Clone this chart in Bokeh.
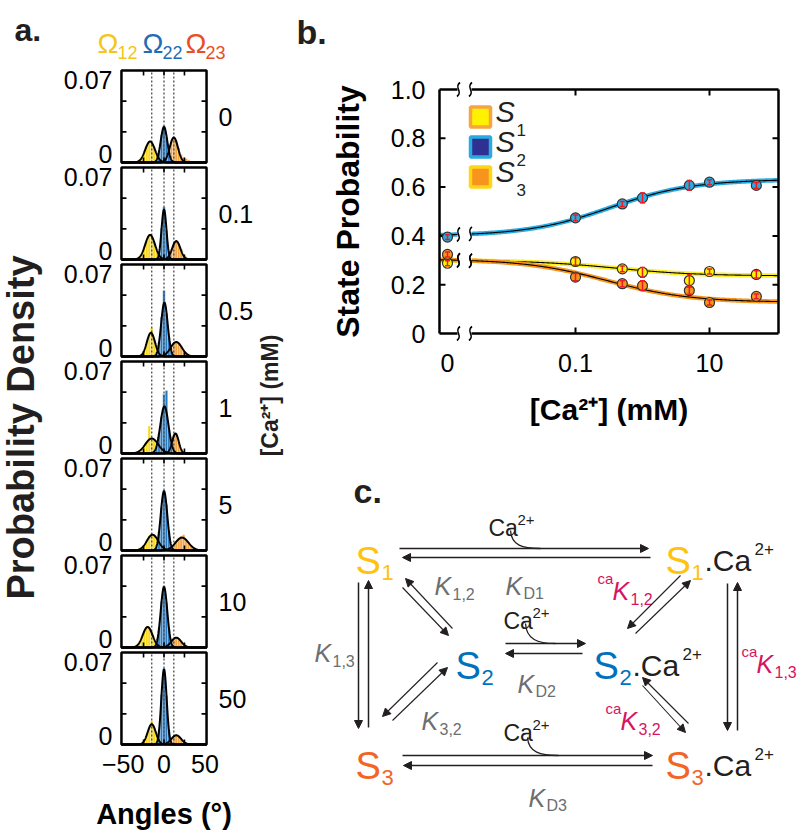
import numpy as np
from bokeh.plotting import figure
from bokeh.models import (ColumnDataSource, FixedTicker, LinearAxis, Range1d,
                          Whisker, TeeHead, Arrow, NormalHead, Plot)
from bokeh.layouts import row, column
from bokeh.core.properties import value
from bokeh.embed import file_html
from bokeh.resources import INLINE

FONT = "Liberation Sans"
HAS_FA = "frame_align" in Plot.properties()

# ---------------- panel a data ----------------
conc_labels = ["0", "0.1", "0.5", "1", "5", "10", "50"]
omega_subs = ["12", "22", "23"]
omega_angles = [-15, 0, 12]
fit_mu = [[-17, 0, 12], [-17, 0, 15], [-16, 0.5, 15], [-15, 0.5, 14],
          [-14, 0, 22], [-20, 0, 15], [-15, 0, 15]]
fit_sd = [[6, 4, 5], [6, 3, 5], [5, 4, 7], [8, 5, 4], [7, 4, 8], [6, 4, 6], [5, 3.3, 6]]
fit_amp = [[0.016, 0.027, 0.019], [0.0187, 0.038, 0.014], [0.018, 0.041, 0.011],
           [0.0114, 0.0358, 0.0152], [0.012, 0.045, 0.0098], [0.0156, 0.046, 0.0075],
           [0.0154, 0.057, 0.007]]
bins_s1 = [-42, -39, -36, -33, -30, -27, -24, -21, -18, -15, -12, -9, -6, -3]
bins_s2 = [-12, -9, -6, -3, 0, 3, 6, 9, 12]
bins_s3 = [3, 6, 9, 12, 15, 18, 21, 24, 27, 30, 33, 36, 39, 42]
# bar heights in units of 1e-3
hist_s1 = [[0, 1, 1, 1, 2, 4, 8, 13, 15, 14, 12, 7, 3, 1],
           [0, 0, 1, 1, 2, 5, 9, 14, 19, 17, 13, 8, 3, 1],
           [1, 0, 1, 0, 1, 2, 5, 11, 17, 22, 13, 7, 2, 1],
           [0, 0, 1, 1, 2, 4, 6, 9, 21, 12, 11, 8, 5, 3],
           [0, 1, 0, 1, 2, 2, 4, 7, 11, 13, 12, 9, 6, 3],
           [0, 0, 1, 2, 4, 8, 13, 16, 15, 12, 7, 3, 1, 0],
           [0, 0, 0, 1, 1, 1, 3, 8, 13, 18, 13, 7, 3, 1]]
hist_s2 = [[0, 2, 9, 21, 28, 19, 9, 2, 0],
           [0, 1, 5, 24, 40, 22, 6, 1, 0],
           [0, 3, 11, 30, 50, 33, 15, 4, 1],
           [2, 6, 15, 28, 45, 48, 18, 8, 2],
           [0, 4, 14, 33, 46, 35, 15, 4, 1],
           [0, 4, 15, 35, 47, 34, 14, 3, 1],
           [0, 1, 11, 38, 58, 37, 11, 1, 0]]
hist_s3 = [[4, 10, 16, 19, 17, 11, 6, 4, 3, 2, 1, 1, 0, 0],
           [1, 3, 7, 12, 14, 12, 8, 4, 2, 1, 1, 0, 0, 0],
           [3, 5, 8, 10, 11, 10, 8, 5, 3, 1, 0, 0, 0, 0],
           [0, 2, 7, 14, 15, 9, 3, 1, 1, 0, 0, 0, 0, 0],
           [1, 1, 3, 4, 7, 9, 11, 12, 8, 6, 4, 2, 1, 0],
           [1, 3, 5, 7, 8, 7, 5, 3, 1, 0, 0, 0, 0, 0],
           [1, 2, 4, 6, 7, 6, 4, 2, 1, 0, 0, 0, 0, 0]]
x_ticks_a = [-50, 0, 50]
x_inner_ticks_a = [-25, 0, 25]

# ---------------- panel b data ----------------
ca_mM = [0, 0.1, 0.5, 1, 5, 10, 50]
p_s1 = [0.288, 0.295, 0.265, 0.251, 0.217, 0.254, 0.242]
e_s1 = [0.010, 0.015, 0.012, 0.020, 0.025, 0.010, 0.015]
p_s2 = [0.395, 0.474, 0.531, 0.556, 0.607, 0.620, 0.607]
e_s2 = [0.010, 0.012, 0.010, 0.020, 0.020, 0.010, 0.012]
p_s3 = [0.324, 0.231, 0.204, 0.196, 0.176, 0.127, 0.152]
e_s3 = [0.010, 0.015, 0.012, 0.020, 0.015, 0.010, 0.010]
# Hill-type fit parameters: (P at 0, P at saturation, K (mM), n)
fit_s1 = (0.300, 0.236, 0.40, 0.7)
fit_s2 = (0.400, 0.632, 0.33, 0.7)
fit_s3 = (0.305, 0.128, 0.30, 0.7)
y_ticks_b = [0, 0.2, 0.4, 0.6, 0.8, 1.0]
y_labels_b = ["0", "0.2", "0.4", "0.6", "0.8", "1.0"]
x_labels_b = ["0", "0.1", "10"]

C_Y, C_B, C_O = "#F9D71C", "#2878BE", "#F3A541"
K = "#231F20"

# overall geometry in page pixels
W_ALL, H_ALL = 800, 840
HDH = 62
RH = H_ALL - HDH


def noalign(f):
    if HAS_FA:
        f.frame_align = False
    return f


def put(p, x, y, s, size, color=K, style="normal", align="left",
        baseline="alphabetic", angle=0.0):
    p.text(x=[x], y=[y], text=[s], text_font=value(FONT),
           text_font_size=f"{size}px", text_font_style=style, text_color=color,
           text_align=align, text_baseline=baseline, angle=angle)


def blank(w, h, x0, x1, y0, y1, bl=0, br=0, bt=0, bb=0):
    f = figure(width=w, height=h, x_range=Range1d(x0, x1), y_range=Range1d(-y1, -y0),
               x_axis_location=None, y_axis_location=None, toolbar_location=None,
               output_backend="svg", min_border_left=bl, min_border_right=br,
               min_border_top=bt, min_border_bottom=bb)
    f.grid.visible = False
    f.outline_line_color = None
    return noalign(f)


# ---------------- header ----------------
hd = blank(W_ALL, HDH, 0, W_ALL, 0, HDH)
put(hd, 14, -29, "a.", 32, style="bold")
put(hd, 296, -31, "b.", 34, style="bold")
om_cols = ["#F5C518", "#1E6DB6", "#E94E24"]
om_x = [97, 142, 185]
for s, c, x in zip(omega_subs, om_cols, om_x):
    put(hd, x, -43, "\u03A9", 28, color=c)
    put(hd, x + 20, -52, s, 18, color=c)

# ---------------- panel a ----------------
SXA = 87 / 104.0
SYA = 92 / 0.07
GAP = 5 / SYA
PITCH = 0.07 + GAP
NR = len(conc_labels)
bases = [(NR - 1 - k) * PITCH for k in range(NR)]
TB = 68 - HDH
BB = RH - TB - 678
PA_X0, PA_X1 = 50, 256

pa = figure(width=PA_X1 - PA_X0, height=RH, toolbar_location=None, output_backend="svg",
            x_range=Range1d(-52 - 2 / SXA, 52 + 2 / SXA),
            y_range=Range1d(-2 / SYA, bases[0] + 0.07 + 2 / SYA),
            min_border_left=119 - PA_X0, min_border_right=PA_X1 - 210,
            min_border_top=TB, min_border_bottom=BB)
noalign(pa)
pa.grid.visible = False
pa.outline_line_color = None

xg = np.linspace(-52, 52, 521)
for k in range(NR):
    b = bases[k]
    for bins, hs, col in ((bins_s1, hist_s1[k], C_Y), (bins_s3, hist_s3[k], C_O),
                          (bins_s2, hist_s2[k], C_B)):
        xs = [x for x, h in zip(bins, hs) if h > 0]
        ts = [b + h / 1000.0 for h in hs if h > 0]
        pa.vbar(x=xs, width=3, bottom=b, top=ts, fill_color=col,
                line_color="white", line_width=0.5, line_alpha=0.6)
    pa.segment(x0=omega_angles, x1=omega_angles, y0=b, y1=b + 0.07,
               line_color="#4D4D4D", line_width=1.3, line_dash="2 2")
    for j in range(3):
        yv = b + fit_amp[k][j] * np.exp(-(xg - fit_mu[k][j]) ** 2 / (2 * fit_sd[k][j] ** 2))
        pa.line(xg, yv, line_color="black", line_width=2)
    yt = [b + 0.07 / 3, b + 0.14 / 3]
    pa.ray(x=[-52, -52], y=yt, length=5, angle=0, length_units="screen",
           line_color="black", line_width=1.6)
    pa.ray(x=[52, 52], y=yt, length=5, angle=np.pi, length_units="screen",
           line_color="black", line_width=1.6)
    pa.ray(x=x_inner_ticks_a, y=[b + 0.07] * 3, length=5, angle=-np.pi / 2,
           length_units="screen", line_color="black", line_width=1.6)
    pa.ray(x=x_inner_ticks_a, y=[b] * 3, length=5, angle=np.pi / 2,
           length_units="screen", line_color="black", line_width=1.6)

pa.quad(left=-52, right=52, bottom=bases, top=[b + 0.07 for b in bases],
        fill_color=None, line_color="black", line_width=2.5)

lab_ticks, lab_over = [], {}
for b in bases:
    t0 = float(b + 9 / SYA)
    t7 = float(b + 0.07 - 9 / SYA)
    lab_ticks += [t0, t7]
    lab_over[t0] = "0"
    lab_over[t7] = "0.07"
ya = pa.yaxis[0]
ya.ticker = FixedTicker(ticks=lab_ticks)
ya.major_label_overrides = lab_over

centers = [float(b + 0.035) for b in bases]
ra = LinearAxis(ticker=FixedTicker(ticks=centers),
                major_label_overrides={c: l for c, l in zip(centers, conc_labels)})
pa.add_layout(ra, "right")

xa = pa.xaxis[0]
xa.ticker = FixedTicker(ticks=x_ticks_a)
xa.axis_label = "Angles (\u00B0)"
xa.axis_label_text_font_size = "29px"
xa.axis_label_text_font_style = "bold"
xa.axis_label_text_font = FONT
xa.axis_label_text_color = "black"
xa.axis_label_standoff = 22
xa.major_label_standoff = 8

for ax in (ya, ra, xa):
    ax.axis_line_color = None
    ax.major_tick_in = 0
    ax.major_tick_out = 0
    ax.minor_tick_in = 0
    ax.minor_tick_out = 0
    ax.major_label_text_font = FONT
    ax.major_label_text_font_size = "25px"
    ax.major_label_text_color = "black"
ya.major_label_standoff = 7
ra.major_label_standoff = 10

al = blank(PA_X0, RH, 0, PA_X0, 68, 746, bt=TB, bb=BB)
put(al, 20, -427, "Probability Density", 38, style="bold", align="center",
    baseline="middle", angle=np.pi / 2)
ar = blank(290 - PA_X1, RH, PA_X1, 290, 68, 746, bt=TB, bb=BB)
put(ar, 269, -395, "[Ca\u00B2\u207A] (mM)", 23, style="bold", align="center",
    baseline="middle", angle=np.pi / 2)

# ---------------- panel b ----------------
def bx(px):
    return 10 ** ((px - 575) / 67.0 - 1)


def by(py):
    return (333 - py) / 244.0


X0 = float(round(bx(447), 6))
XL, XR, XB1, XB2 = bx(439), bx(778), bx(457), bx(471)
xplot = [X0 if c == 0 else c for c in ca_mM]
WB = W_ALL - 290
PBH = 440 - HDH

pb = figure(width=WB, height=PBH, x_axis_type="log", toolbar_location=None,
            output_backend="svg", x_range=Range1d(bx(436), bx(781)),
            y_range=Range1d(by(343), by(79)), min_border_left=146,
            min_border_right=W_ALL - 781, min_border_top=79 - HDH,
            min_border_bottom=440 - 343)
noalign(pb)
pb.grid.visible = False
pb.outline_line_color = None


def hill(x, prm):
    p0, pinf, kd, n = prm
    x = np.asarray(x)
    return p0 + (pinf - p0) * x ** n / (x ** n + kd ** n)


xl = np.geomspace(XL, XB1, 30)
xr = np.geomspace(XB2, XR, 300)
for prm, col in ((fit_s1, "#F9EC31"), (fit_s3, "#F7941D"), (fit_s2, "#29ABE2")):
    for xs in (xl, xr):
        pb.line(xs, hill(xs, prm), line_color=col, line_width=4.5)
        pb.line(xs, hill(xs, prm), line_color="black", line_width=1.1)

pb.segment(x0=[XL, XR, XL, XB2, XL, XB2], x1=[XL, XR, XB1, XR, XB1, XR],
           y0=[0, 0, 1, 1, 0, 0], y1=[1, 1, 1, 1, 0, 0],
           line_color="black", line_width=2.5)


def brk(px, py):
    pb.bezier(x0=bx(px - 1.5), y0=by(py + 7), x1=bx(px + 1.5), y1=by(py - 7),
              cx0=bx(px + 5), cy0=by(py + 2), cx1=bx(px - 5), cy1=by(py - 2),
              line_color="black", line_width=1.6)


for py in (89, 333):
    brk(458, py)
    brk(470, py)
for prm in (fit_s1, fit_s2, fit_s3):
    brk(458, 333 - 244 * float(hill(XB1, prm)))
    brk(470, 333 - 244 * float(hill(XB2, prm)))

tk = [0.2, 0.4, 0.6, 0.8]
pb.ray(x=[XL] * 4, y=tk, length=6, angle=0, length_units="screen", line_color="black", line_width=2)
pb.ray(x=[XR] * 4, y=tk, length=6, angle=np.pi, length_units="screen", line_color="black", line_width=2)
pb.ray(x=[0.1, 10], y=[1, 1], length=6, angle=-np.pi / 2, length_units="screen", line_color="black", line_width=2)
pb.ray(x=[0.1, 10], y=[0, 0], length=6, angle=np.pi / 2, length_units="screen", line_color="black", line_width=2)

for ps, es, col in ((p_s2, e_s2, "#29ABE2"), (p_s1, e_s1, "#FFF200"), (p_s3, e_s3, "#F7941D")):
    src = ColumnDataSource(dict(x=xplot, y=ps, up=[a + e for a, e in zip(ps, es)],
                                lo=[a - e for a, e in zip(ps, es)]))
    pb.scatter("x", "y", source=src, size=10, fill_color=col, line_color="#333333", line_width=1.2)
    w = Whisker(source=src, base="x", upper="up", lower="lo", line_color="#ED1C24",
                line_width=1.5, level="overlay",
                upper_head=TeeHead(size=5, line_color="#ED1C24", line_width=1.5),
                lower_head=TeeHead(size=5, line_color="#ED1C24", line_width=1.5))
    pb.add_layout(w)

leg_fill = ["#FFF200", "#2E3192", "#F7941D"]
leg_line = ["#F7A541", "#29ABE2", "#FFD617"]
leg_y = [116.5, 146.5, 176.5]
pb.scatter(x=[bx(480)] * 3, y=[by(v) for v in leg_y], marker="square", size=20,
           fill_color=leg_fill, line_color=leg_line, line_width=3.5)
for i, v in enumerate(leg_y):
    pb.text(x=[bx(495)], y=[by(v + 11)], text=["S"], text_font=value(FONT),
            text_font_size="29px", text_font_style="italic", text_color=K)
    pb.text(x=[bx(516)], y=[by(v + 19)], text=[str(i + 1)], text_font=value(FONT),
            text_font_size="17px", text_color=K)

yb = pb.yaxis[0]
yb.ticker = FixedTicker(ticks=y_ticks_b)
yb.major_label_overrides = {float(t): l for t, l in zip(y_ticks_b, y_labels_b)}
yb.axis_label = "State Probability"
yb.axis_label_standoff = 22
yb.axis_label_text_font_size = "32px"
yb.major_label_standoff = 11
xb = pb.xaxis[0]
xtb = [X0, 0.1, 10.0]
xb.ticker = FixedTicker(ticks=xtb)
xb.major_label_overrides = {t: l for t, l in zip(xtb, x_labels_b)}
xb.axis_label = "[Ca\u00B2\u207A] (mM)"
xb.axis_label_standoff = 18
xb.axis_label_text_font_size = "30px"
xb.major_label_standoff = 10
for ax in (yb, xb):
    ax.axis_line_color = None
    ax.major_tick_in = 0
    ax.major_tick_out = 0
    ax.minor_tick_in = 0
    ax.minor_tick_out = 0
    ax.major_label_text_font = FONT
    ax.major_label_text_font_size = "25px"
    ax.major_label_text_color = "black"
    ax.axis_label_text_font = FONT
    ax.axis_label_text_font_style = "bold"
    ax.axis_label_text_color = "black"

# ---------------- panel c (reaction scheme) ----------------
C_S1, C_S2, C_S3 = "#FFC20E", "#0072BC", "#F26522"
GRAY, RED = "#6D6E71", "#D6145F"
states = [(355, 560, "1", C_S1, ""), (665, 560, "1", C_S1, ".Ca"),
          (455, 665, "2", C_S2, ""), (593, 665, "2", C_S2, ".Ca"),
          (355, 765, "3", C_S3, ""), (665, 765, "3", C_S3, ".Ca")]
consts = [("", 505, 585, "D1", GRAY), ("", 434, 585, "1,2", GRAY),
          ("ca", 612, 590, "1,2", RED), ("", 517, 683, "D2", GRAY),
          ("", 314, 652, "1,3", GRAY), ("ca", 756, 663, "1,3", RED),
          ("", 528, 797, "D3", GRAY), ("", 421, 720, "3,2", GRAY),
          ("ca", 620, 720, "3,2", RED)]
ca_labels = [(488, 527), (503, 620), (503, 732)]
arrows_h = [(399, 548, 648, 548), (650, 557, 402, 557), (505, 643, 585, 643),
            (582, 653, 505, 653), (402, 755, 652, 755), (652, 765, 403, 765),
            (358, 582, 358, 728), (368, 727, 368, 580), (727, 583, 727, 730),
            (737, 730, 737, 582)]
arrows_d = [(452, 628, 405, 578), (402, 587, 448, 635), (392, 720, 447, 667),
            (437, 662, 382, 716), (642, 685, 685, 732), (688, 723, 642, 677),
            (635, 633, 690, 580), (680, 575, 627, 628)]
tails = [(510, 530, 511, 545, 522, 548, 540, 548), (525, 623, 526, 639, 537, 643, 555, 643),
         (527, 737, 528, 752, 540, 755, 558, 755)]

pc = blank(WB, RH - PBH, 290, W_ALL, 440, H_ALL)
put(pc, 353, -490, "c.", 34, style="bold")
for x, yb_, sub, col, suf in states:
    put(pc, x, -yb_, "S", 38, color=col)
    put(pc, x + 26, -(yb_ + 12), sub, 22, color=col)
    if suf:
        put(pc, x + 39, -yb_, suf, 30)
        put(pc, x + 89, -(yb_ - 12), "2+", 17)
for pre, x, yb_, sub, col in consts:
    if pre:
        put(pc, x - 15, -(yb_ - 12), pre, 15, color=col)
    put(pc, x, -yb_, "K", 25, color=col, style="italic")
    put(pc, x + 18, -(yb_ + 8), sub, 16, color=col)
for x, yb_ in ca_labels:
    put(pc, x, -yb_, "Ca", 23)
    put(pc, x + 29, -(yb_ - 8), "2+", 15)

for arr, lw in ((arrows_h, 1.5), (arrows_d, 1.1)):
    src = ColumnDataSource(dict(x0=[a[0] for a in arr], y0=[-a[1] for a in arr],
                                x1=[a[2] for a in arr], y1=[-a[3] for a in arr]))
    pc.add_layout(Arrow(end=NormalHead(size=8, fill_color=K, line_color=K, line_width=1),
                        x_start="x0", y_start="y0", x_end="x1", y_end="y1",
                        source=src, line_color=K, line_width=lw))
pc.bezier(x0=[t[0] for t in tails], y0=[-t[1] for t in tails],
          cx0=[t[2] for t in tails], cy0=[-t[3] for t in tails],
          cx1=[t[4] for t in tails], cy1=[-t[5] for t in tails],
          x1=[t[6] for t in tails], y1=[-t[7] for t in tails],
          line_color=K, line_width=1.3)

layout = column(hd, row(al, pa, ar, column(pb, pc)))
open("out.html", "w").write(file_html(layout, INLINE))
